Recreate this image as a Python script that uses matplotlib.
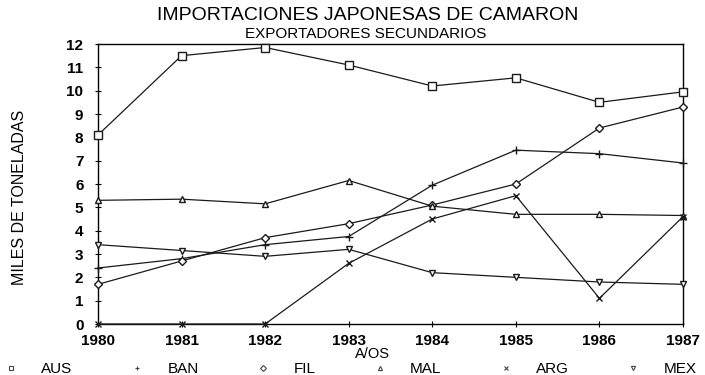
import matplotlib
matplotlib.use("Agg")
import matplotlib.pyplot as plt
from matplotlib.lines import Line2D

plt.rcParams['font.family'] = ['Liberation Sans', 'DejaVu Sans']

years = [1980, 1981, 1982, 1983, 1984, 1985, 1986, 1987]
aus = [8.1, 11.5, 11.85, 11.1, 10.2, 10.55, 9.5, 9.95]
ban = [2.4, 2.8, 3.4, 3.75, 5.95, 7.45, 7.3, 6.9]
fil = [1.7, 2.7, 3.7, 4.3, 5.1, 6.0, 8.4, 9.3]
mal = [5.3, 5.35, 5.15, 6.15, 5.05, 4.7, 4.7, 4.65]
arg = [0.0, 0.0, 0.0, 2.6, 4.5, 5.5, 1.1, 4.6]
mex = [3.4, 3.15, 2.9, 3.2, 2.2, 2.0, 1.8, 1.7]

names = ["AUS", "BAN", "FIL", "MAL", "ARG", "MEX"]
series = [aus, ban, fil, mal, arg, mex]
markers = ["s", "+", "D", "^", "x", "v"]
msizes = [6, 5.5, 3.8, 4.2, 4.8, 4.2]

fig = plt.figure(figsize=(7.05, 3.75), dpi=100)
ax = fig.add_axes([98 / 705, 1 - 324 / 375, (683 - 98) / 705, (324 - 44) / 375])

for vals, mk, ms in zip(series, markers, msizes):
    ax.plot(years, vals, color="#1a1a1a", lw=0.9, marker=mk, ms=ms,
            mfc="white", mec="#1a1a1a", mew=1.0, clip_on=False, zorder=3)

ax.set_xlim(1980, 1987)
ax.set_ylim(0, 12)
ax.set_xticks(years)
ax.set_yticks(range(0, 13))
ax.tick_params(axis="both", direction="inout", length=5, width=0.8,
               labelsize=11, colors="black")
ax.tick_params(axis="x", pad=5)
ax.tick_params(axis="y", pad=8)
for lab in ax.get_xticklabels() + ax.get_yticklabels():
    lab.set_fontweight("bold")
for sp in ax.spines.values():
    sp.set_linewidth(1.0)
    sp.set_color("black")

fig.text(368 / 705, 1 - 16 / 375, "IMPORTACIONES JAPONESAS DE CAMARON",
         ha="center", va="center", fontsize=14)
fig.text(366 / 705, 1 - 34 / 375, "EXPORTADORES SECUNDARIOS",
         ha="center", va="center", fontsize=11)
fig.text(20 / 705, 1 - 197 / 375, "MILES DE TONELADAS", rotation=90,
         ha="center", va="center", fontsize=11.5)
fig.text(372 / 705, 1 - 354 / 375, "A/OS", ha="center", va="center",
         fontsize=10.5)

handles = [Line2D([], [], ls="none", marker=mk, ms=3, mfc="white",
                  mec="#444444", mew=0.8) for mk in markers]
fig.legend(handles, names, loc="center", bbox_to_anchor=(350 / 705, 1 - 369 / 375),
           ncol=6, frameon=False, fontsize=11, handlelength=1.0,
           handletextpad=1.5, columnspacing=3.7, borderpad=0)

fig.savefig("out.png", dpi=100)
